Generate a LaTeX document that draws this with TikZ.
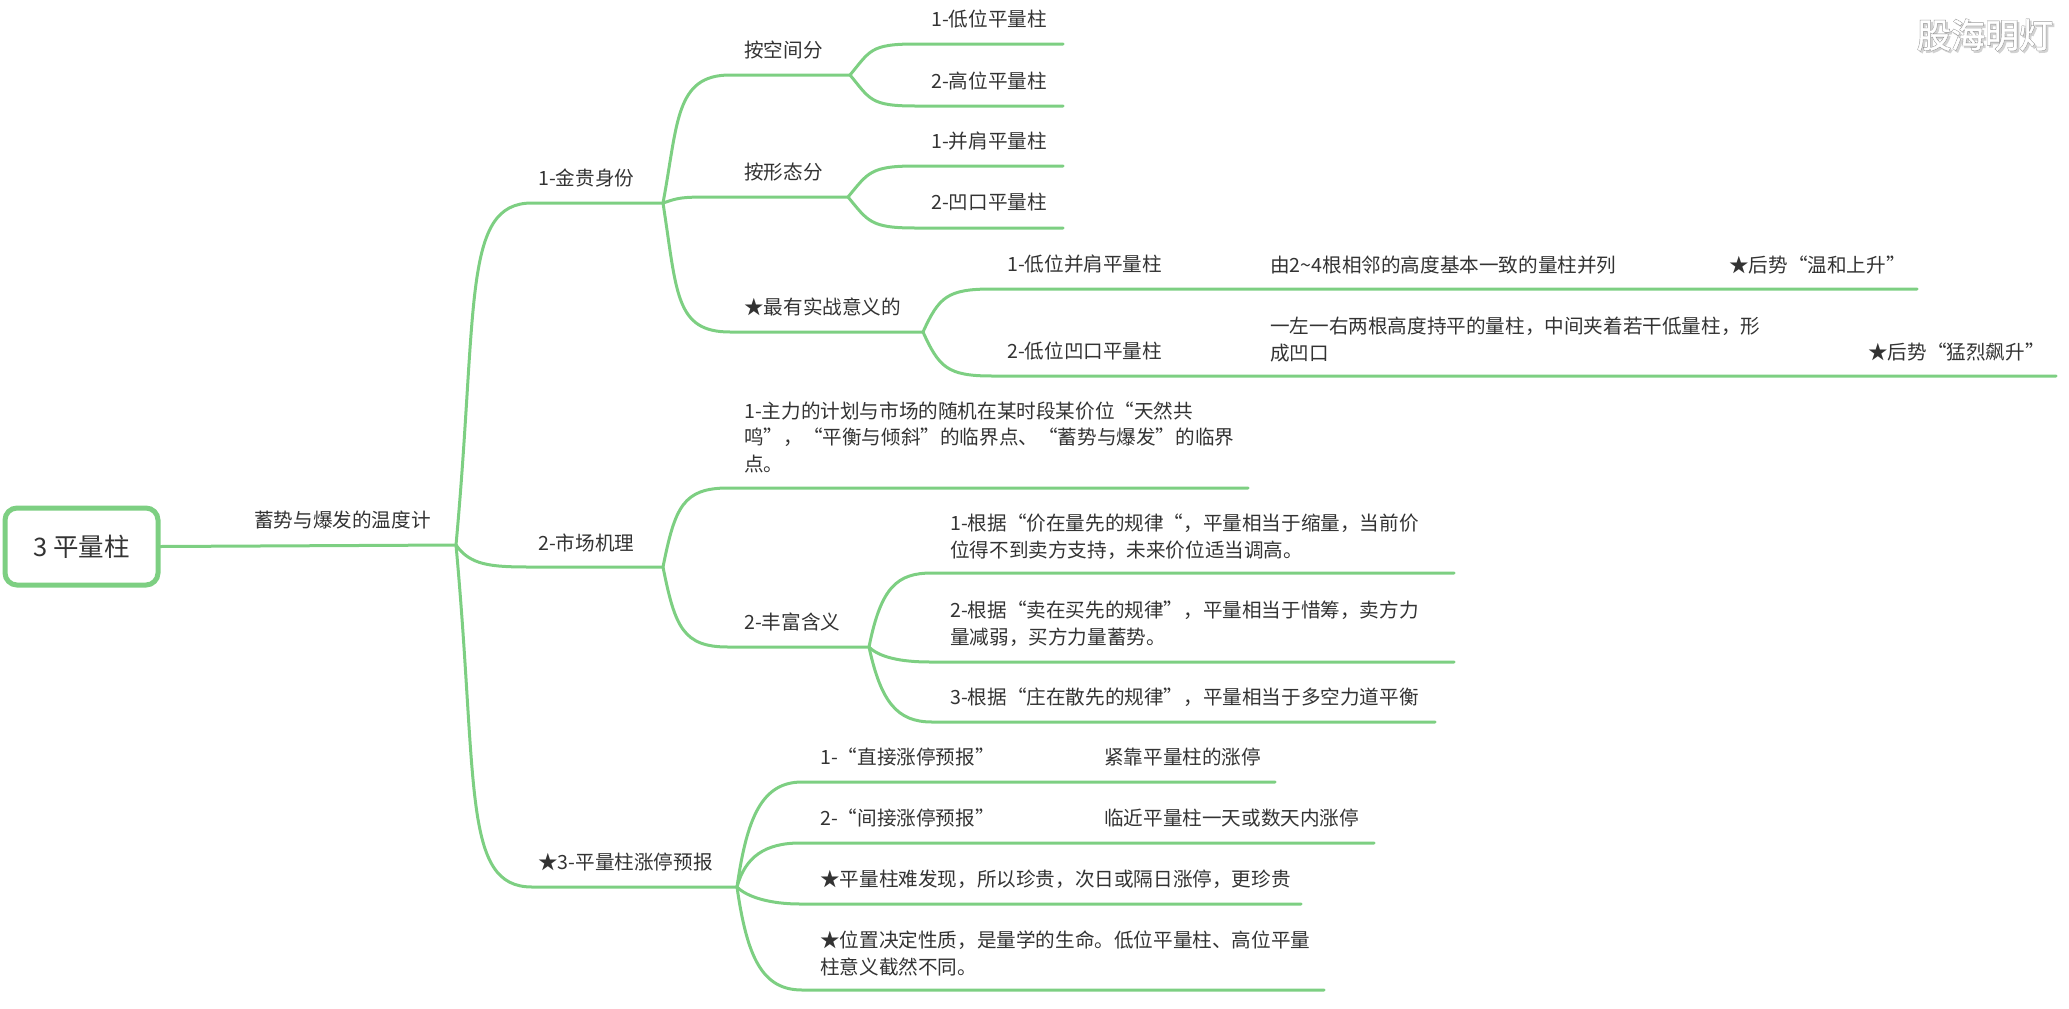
\documentclass[tikz,border=0pt]{standalone}
\usepackage{fontspec}
\setmainfont{Noto Sans CJK SC}
\newfontfamily\markfont[FakeBold=4]{Noto Sans CJK SC}
\newfontfamily\markfill[FakeBold=1.5]{Noto Sans CJK SC}
\definecolor{mapgreen}{RGB}{125,207,130}
\definecolor{maptext}{RGB}{51,51,51}
\tikzset{
  topic/.style={anchor=west,inner sep=0pt,align=left,text=maptext,font=\fontsize{19.6}{26.5}\selectfont},
  link/.style={draw=mapgreen,line width=3pt,line cap=round},
  rootbox/.style={draw=mapgreen,line width=5pt,rounded corners=12pt,fill=white,minimum width=153pt,minimum height=77pt,text=maptext,font=\fontsize{25.5}{30}\selectfont}
}

\begin{document}
\begin{tikzpicture}[x=1pt,y=-1pt]
    \useasboundingbox (0,0) rectangle (2069,1009);

    \coordinate (center) at (456,545);
    \coordinate (gold) at (663,203);
    \coordinate (mech) at (663,567);
    \coordinate (fore) at (737,887);
    \coordinate (space) at (850,75);
    \coordinate (form) at (848,197);
    \coordinate (best) at (923,332);
    \coordinate (rich) at (869,647);

    % main branches
    \draw[link] (center) .. controls +(22,-240) and +(-70,0) .. (532,203) -- (gold);
    \draw[link] (center) .. controls +(14,20) and +(-40,0) .. (530,567) -- (mech);
    \draw[link] (center) .. controls +(22,240) and +(-70,0) .. (532,887) -- (fore);

    % 1-gold
    \draw[link] (gold) .. controls +(15,-80) and +(-55,0) .. (730,75) -- (space);
    \draw[link] (gold) .. controls +(15,-5) and +(-30,0) .. (710,197) -- (form);
    \draw[link] (gold) .. controls +(14,90) and +(-55,0) .. (730,332) -- (best);
    \coordinate (space1) at (1063,44);
    \coordinate (space2) at (1063,106);
    \coordinate (form1) at (1063,166);
    \coordinate (form2) at (1063,228);
    \coordinate (best1) at (1917,289);
    \coordinate (best2) at (2056,376);
    \draw[link] (space) .. controls +(20,-24) and +(-45,0) .. (915,44) -- (space1);
    \draw[link] (space) .. controls +(20,24) and +(-45,0) .. (915,106) -- (space2);
    \draw[link] (form) .. controls +(20,-24) and +(-45,0) .. (915,166) -- (form1);
    \draw[link] (form) .. controls +(20,24) and +(-45,0) .. (915,228) -- (form2);
    \draw[link] (best) .. controls +(16,-35) and +(-45,0) .. (992,289) -- (best1);
    \draw[link] (best) .. controls +(16,35) and +(-45,0) .. (992,376) -- (best2);

    % 2-mech
    \coordinate (mech1) at (1248,488);
    \coordinate (rich1) at (1454,573);
    \coordinate (rich2) at (1454,662);
    \coordinate (rich3) at (1435,722);
    \draw[link] (mech) .. controls +(12,-60) and +(-45,0) .. (728,488) -- (mech1);
    \draw[link] (mech) .. controls +(12,60) and +(-45,0) .. (728,647) -- (rich);
    \draw[link] (rich) .. controls +(12,-60) and +(-35,0) .. (932,573) -- (rich1);
    \draw[link] (rich) .. controls +(10,10) and +(-30,0) .. (930,662) -- (rich2);
    \draw[link] (rich) .. controls +(12,55) and +(-35,0) .. (932,722) -- (rich3);

    % 3-fore
    \coordinate (fore1) at (1275,782);
    \coordinate (fore2) at (1374,843);
    \coordinate (fore3) at (1301,904);
    \coordinate (fore4) at (1324,990);
    \draw[link] (fore) .. controls +(10,-70) and +(-40,0) .. (802,782) -- (fore1);
    \draw[link] (fore) .. controls +(8,-30) and +(-35,0) .. (800,843) -- (fore2);
    \draw[link] (fore) .. controls +(10,10) and +(-30,0) .. (800,904) -- (fore3);
    \draw[link] (fore) .. controls +(10,70) and +(-40,0) .. (802,990) -- (fore4);

    \node[rootbox] (root) at (81.5,546.5) {3 平量柱};
    \draw[link] (root.east) -- (center);

    \node[topic] (slogan) at (254,520) {蓄势与爆发的温度计};
    \node[topic] (goldtxt) at (538,178) {1-金贵身份};
    \node[topic] (mechtxt) at (538,543) {2-市场机理};
    \node[topic] (foretxt) at (538,862) {★3-平量柱涨停预报};

    \node[topic] (spacetxt) at (744,50) {按空间分};
    \node[topic] (formtxt) at (744,172) {按形态分};
    \node[topic] (besttxt) at (744,307) {★最有实战意义的};
    \node[topic] (lowtxt) at (931,19) {1-低位平量柱};
    \node[topic] (hightxt) at (931,81) {2-高位平量柱};
    \node[topic] (shouldertxt) at (931,141) {1-并肩平量柱};
    \node[topic] (notchtxt) at (931,202) {2-凹口平量柱};
    \node[topic] (best1txt) at (1007,264) {1-低位并肩平量柱};
    \node[topic] (best2txt) at (1007,351) {2-低位凹口平量柱};
    \node[topic] (best1a) at (1270,265) {由2\textasciitilde4根相邻的高度基本一致的量柱并列};
    \node[topic] (best1b) at (1729,265) {★后势“温和上升”};
    \node[topic] (best2a) at (1270,339.5) {一左一右两根高度持平的量柱，中间夹着若干低量柱，形\\成凹口};
    \node[topic] (best2b) at (1868,352) {★后势“猛烈飙升”};

    \node[topic] (mech1txt) at (744,437) {1-主力的计划与市场的随机在某时段某价位“天然共\\鸣”，“平衡与倾斜”的临界点、“蓄势与爆发”的临界\\点。};
    \node[topic] (richtxt) at (744,622) {2-丰富含义};
    \node[topic] (rich1txt) at (950,536.5) {1-根据“价在量先的规律“，平量相当于缩量，当前价\\位得不到卖方支持，未来价位适当调高。};
    \node[topic] (rich2txt) at (950,623.5) {2-根据“卖在买先的规律”，平量相当于惜筹，卖方力\\量减弱，买方力量蓄势。};
    \node[topic] (rich3txt) at (950,697) {3-根据“庄在散先的规律”，平量相当于多空力道平衡};

    \node[topic] (fore1txt) at (820,757) {1-“直接涨停预报”};
    \node[topic] (fore1b) at (1104,757) {紧靠平量柱的涨停};
    \node[topic] (fore2txt) at (820,818) {2-“间接涨停预报”};
    \node[topic] (fore2b) at (1104,818) {临近平量柱一天或数天内涨停};
    \node[topic] (fore3txt) at (820,879) {★平量柱难发现，所以珍贵，次日或隔日涨停，更珍贵};
    \node[topic] (fore4txt) at (820,953.5) {★位置决定性质，是量学的生命。低位平量柱、高位平量\\柱意义截然不同。};

    % watermark
    \node[text=gray!35,font=\markfont\fontsize{34}{34}\selectfont,inner sep=0pt] (markshade) at (1987,37) {股海明灯};
    \node[text=gray!90,font=\markfont\fontsize{34}{34}\selectfont,inner sep=0pt] (markback) at (1985,35) {股海明灯};
    \node[text=white,font=\markfill\fontsize{34}{34}\selectfont,inner sep=0pt] (markfront) at (1985,35) {股海明灯};
\end{tikzpicture}
\end{document}
